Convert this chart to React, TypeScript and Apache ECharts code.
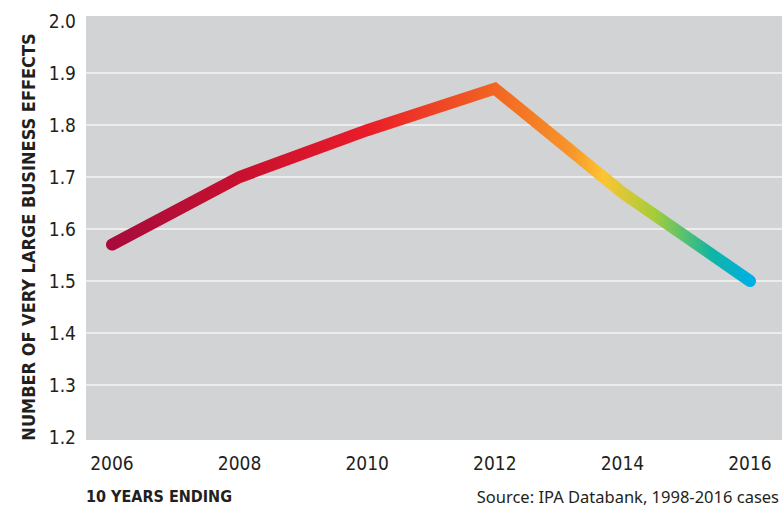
import React, { useEffect, useRef } from "react";
import * as echarts from "echarts";

const years = ["2006", "2008", "2010", "2012", "2014", "2016"];
const effects = [1.57, 1.7, 1.79, 1.87, 1.67, 1.5];
const yTicks = { min: 1.2, max: 2.0, interval: 0.1 };
const yTitle = "NUMBER OF VERY LARGE BUSINESS EFFECTS";
const xTitle = "10 YEARS ENDING";
const sourceNote = "Source: IPA Databank, 1998-2016 cases";

const COND = '"DejaVu Sans Condensed", "Liberation Sans Narrow", "Roboto", sans-serif';

export default function App() {
  const ref = useRef<HTMLDivElement>(null);
  useEffect(() => {
    if (!ref.current) return;
    document.body.style.margin = "0";
    const chart = echarts.init(ref.current, null, { renderer: "svg" });
    chart.setOption({
      animation: false,
      backgroundColor: "#ffffff",
      graphic: [
        {
          type: "rect",
          z: -10,
          shape: { x: 86, y: 16, width: 696, height: 424 },
          style: { fill: "#d1d3d4" },
          silent: true,
        },
        {
          type: "text",
          x: 28,
          y: 237,
          rotation: Math.PI / 2,
          style: {
            text: yTitle,
            font: `bold 18px ${COND}`,
            fill: "#231f20",
            align: "center",
            verticalAlign: "middle",
          },
        },
        {
          type: "text",
          x: 86,
          y: 496,
          style: {
            text: xTitle,
            font: `bold 16px ${COND}`,
            fill: "#231f20",
            align: "left",
            verticalAlign: "middle",
          },
        },
        {
          type: "text",
          x: 779,
          y: 496,
          style: {
            text: sourceNote,
            font: `16.5px "Noto Sans", "Open Sans", sans-serif`,
            fill: "#231f20",
            align: "right",
            verticalAlign: "middle",
          },
        },
      ],
      grid: [
        { left: 112, right: 32, top: 21, bottom: 70 },
        { left: 86, right: 0, top: 21, bottom: 70 },
      ],
      xAxis: [
        {
          type: "category",
          gridIndex: 0,
          data: years,
          boundaryGap: false,
          axisLine: { show: false },
          axisTick: { show: false },
          axisLabel: {
            margin: 16,
            color: "#231f20",
            fontSize: 19,
            fontFamily: COND,
          },
          splitLine: { show: false },
        },
        {
          type: "value",
          gridIndex: 1,
          show: false,
        },
      ],
      yAxis: [
        {
          type: "value",
          gridIndex: 0,
          min: yTicks.min,
          max: yTicks.max,
          interval: yTicks.interval,
          show: false,
        },
        {
          type: "value",
          gridIndex: 1,
          min: yTicks.min,
          max: yTicks.max,
          interval: yTicks.interval,
          axisLine: { show: false },
          axisTick: { show: false },
          axisLabel: {
            margin: 10,
            color: "#231f20",
            fontSize: 19,
            fontFamily: COND,
            formatter: (v: number) => v.toFixed(1),
          },
          splitLine: {
            show: true,
            showMinLine: false,
            showMaxLine: false,
            lineStyle: { color: "#ececec", width: 2 },
          },
        },
      ],
      series: [
        {
          type: "line",
          xAxisIndex: 0,
          yAxisIndex: 0,
          data: effects,
          symbol: "none",
          z: 5,
          lineStyle: {
            width: 12,
            cap: "round",
            join: "miter",
            color: new echarts.graphic.LinearGradient(0, 0, 1, 0, [
              { offset: 0, color: "#a80b3c" },
              { offset: 0.2, color: "#c8102f" },
              { offset: 0.4, color: "#ea1c2a" },
              { offset: 0.6, color: "#f26522" },
              { offset: 0.72, color: "#f8952a" },
              { offset: 0.77, color: "#fcc533" },
              { offset: 0.85, color: "#a5cd3a" },
              { offset: 0.94, color: "#10b5a4" },
              { offset: 1, color: "#00afe4" },
            ]),
          },
        },
      ],
    });
    return () => chart.dispose();
  }, []);
  return <div ref={ref} style={{ width: 782, height: 507 }} />;
}
